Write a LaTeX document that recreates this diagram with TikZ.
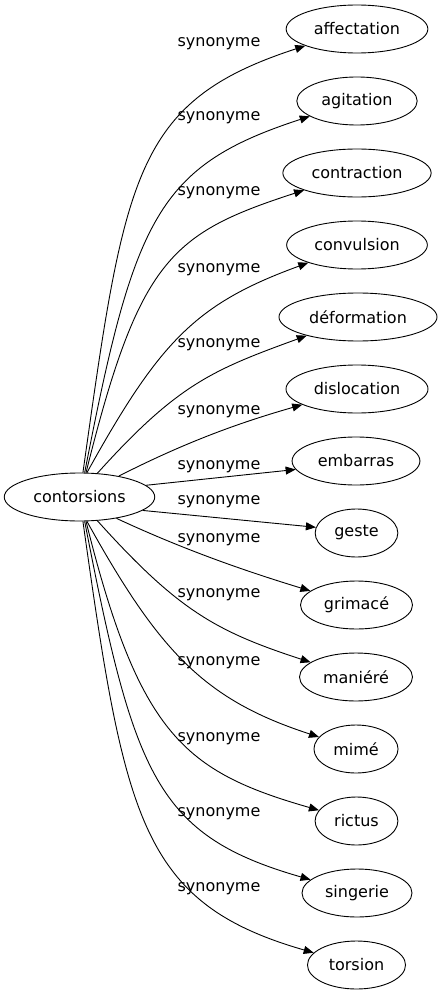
\documentclass[tikz,border=0pt]{standalone}
\usepackage{fontspec}
\setmainfont{DejaVu Sans}
\usetikzlibrary{shapes.geometric,arrows.meta}
\newlength{\termheight}
\setlength{\termheight}{48pt}
\tikzstyle{term} = [draw, ellipse, line width=0.9pt, minimum height=\termheight, inner xsep=7pt, font=\fontsize{16}{19}\selectfont]
\tikzstyle{rel} = [anchor=base, inner sep=0, font=\fontsize{16}{19}\selectfont]
\tikzstyle{syn} = [draw, line width=0.9pt, -{Triangle[length=10pt,width=8pt]}]

\begin{document}
\begin{tikzpicture}[x=1pt, y=1pt]
	\useasboundingbox (0,0) rectangle (441,-995);
	
	\node[term] (cont) at (79.5,-497) {contorsions};
	
	% synonymes
	\node[term] (aff) at (357,-29) {affectation};
	\node[term] (agi) at (357,-101) {agitation};
	\node[term] (contr) at (357,-173) {contraction};
	\node[term] (conv) at (357,-245) {convulsion};
	\node[term] (defo) at (358,-317) {déformation};
	\node[term] (disl) at (357,-389) {dislocation};
	\node[term] (emba) at (356,-461) {embarras};
	\node[term] (gest) at (356.5,-533) {geste};
	\node[term] (grim) at (356.5,-605) {grimacé};
	\node[term] (mani) at (356,-677) {maniéré};
	\node[term] (mime) at (356,-749) {mimé};
	\node[term] (rict) at (356.5,-821) {rictus};
	\node[term] (sing) at (357,-893) {singerie};
	\node[term] (tors) at (356.5,-965) {torsion};
	
	% labels
	\node[rel] (l-aff) at (219,-47) {synonyme};
	\node[rel] (l-agi) at (219,-121) {synonyme};
	\node[rel] (l-contr) at (219,-195) {synonyme};
	\node[rel] (l-conv) at (219,-272) {synonyme};
	\node[rel] (l-defo) at (219,-347) {synonyme};
	\node[rel] (l-disl) at (219,-414) {synonyme};
	\node[rel] (l-emba) at (219,-469) {synonyme};
	\node[rel] (l-gest) at (219,-504) {synonyme};
	\node[rel] (l-grim) at (219,-542) {synonyme};
	\node[rel] (l-mani) at (219,-597) {synonyme};
	\node[rel] (l-mime) at (219,-665) {synonyme};
	\node[rel] (l-rict) at (219,-741) {synonyme};
	\node[rel] (l-sing) at (219,-816) {synonyme};
	\node[rel] (l-tors) at (219,-891) {synonyme};
	
	% edges
	\draw[syn] (cont.82) to[out=82, in=198, out distance=300pt, in distance=180pt] (aff);
	\draw[syn] (cont.78) to[out=79, in=198, out distance=260pt, in distance=160pt] (agi);
	\draw[syn] (cont.75) to[out=76, in=198, out distance=220pt, in distance=140pt] (contr);
	\draw[syn] (cont.73) to[out=61, in=200, out distance=150pt, in distance=120pt] (conv);
	\draw[syn] (cont.53) to[out=48, in=200, out distance=120pt, in distance=100pt] (defo);
	\draw[syn] (cont.28) to[out=27, in=196, out distance=80pt, in distance=60pt] (disl);
	\draw[syn] (cont.10) -- (emba.188);
	\draw[syn] (cont.-12) -- (gest.172);
	\draw[syn] (cont.-30) to[out=-25, in=163, out distance=80pt, in distance=60pt] (grim);
	\draw[syn] (cont.-53) to[out=-48, in=162, out distance=120pt, in distance=100pt] (mani);
	\draw[syn] (cont.-73) to[out=-61, in=162, out distance=150pt, in distance=120pt] (mime);
	\draw[syn] (cont.-75) to[out=-76, in=164, out distance=220pt, in distance=140pt] (rict);
	\draw[syn] (cont.-78) to[out=-79, in=164, out distance=260pt, in distance=160pt] (sing);
	\draw[syn] (cont.-82) to[out=-82, in=164, out distance=300pt, in distance=180pt] (tors);
	
\end{tikzpicture}
\end{document}
